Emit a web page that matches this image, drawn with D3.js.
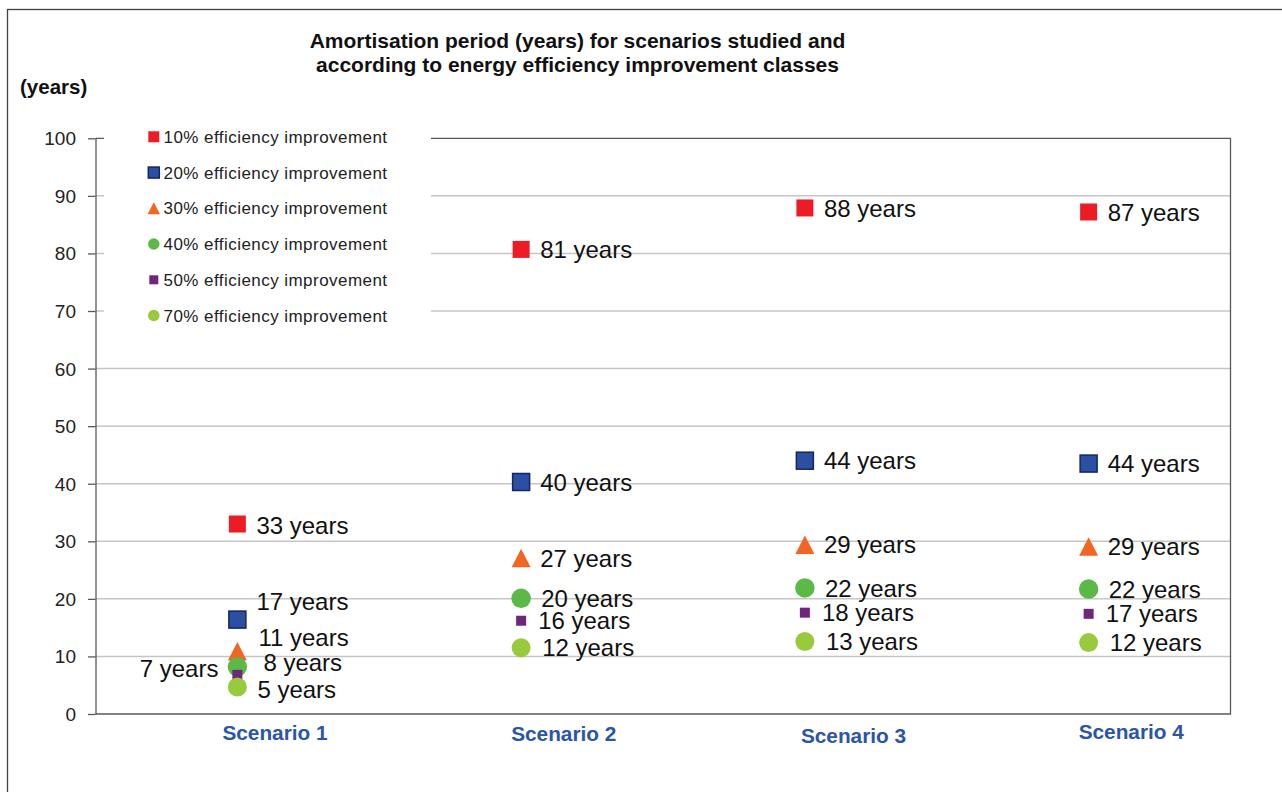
<!DOCTYPE html>
<html>
<head>
<meta charset="utf-8">
<script src="https://cdn.jsdelivr.net/npm/d3@7"></script>
<style>
  html, body { margin: 0; padding: 0; background: #ffffff; }
  svg { display: block; }
  text { font-family: "Liberation Sans", Arial, sans-serif; }
</style>
</head>
<body>
<script>
// ---------------- DATA ----------------
const categories = ["Scenario 1", "Scenario 2", "Scenario 3", "Scenario 4"];
const seriesNames = [
  "10% efficiency improvement",
  "20% efficiency improvement",
  "30% efficiency improvement",
  "40% efficiency improvement",
  "50% efficiency improvement",
  "70% efficiency improvement"
];
// plotted positions (years)
const improvement10 = [33.0, 80.7, 87.9, 87.2];
const improvement20 = [16.4, 40.3, 44.0, 43.5];
const improvement30 = [10.9, 27.1, 29.4, 29.1];
const improvement40 = [8.2, 20.1, 21.9, 21.7];
const improvement50 = [6.8, 16.2, 17.6, 17.4];
const improvement70 = [4.7, 11.5, 12.6, 12.4];
// printed data labels (years)
const labels10 = [33, 81, 88, 87];
const labels20 = [17, 40, 44, 44];
const labels30 = [11, 27, 29, 29];
const labels40 = [8, 20, 22, 22];
const labels50 = [7, 16, 18, 17];
const labels70 = [5, 12, 13, 12];
const yTicks = [0, 10, 20, 30, 40, 50, 60, 70, 80, 90, 100];
const titleLines = [
  "Amortisation period (years) for scenarios studied and",
  "according to energy efficiency improvement classes"
];
const yAxisTitle = "(years)";

// ---------------- STYLE ----------------
const seriesValues = [improvement10, improvement20, improvement30, improvement40, improvement50, improvement70];
const seriesLabels = [labels10, labels20, labels30, labels40, labels50, labels70];
const styles = [
  { fill: "#ed1c24", stroke: "none", shape: "square", size: 17, lsize: 11, ldx: 19 },
  { fill: "#2a4fa3", stroke: "#14275e", shape: "square", size: 17, lsize: 11, ldx: 19 },
  { fill: "#f26522", stroke: "none", shape: "triangle", size: 19, lsize: 12.5, ldx: 19 },
  { fill: "#5cb947", stroke: "none", shape: "circle", size: 19.5, lsize: 11.5, ldx: 20 },
  { fill: "#70267a", stroke: "none", shape: "square", size: 10, lsize: 9, ldx: 17 },
  { fill: "#99c93c", stroke: "none", shape: "circle", size: 19, lsize: 11.5, ldx: 21 }
];
// label offsets for the crowded Scenario 1 cluster [dx, dy, anchor]
const s1LabelOffsets = [
  [19, 1, "start"],
  [19, -18, "start"],
  [21, -14, "start"],
  [26, -4, "start"],
  [-19, -6, "end"],
  [20, 2, "start"]
];
const scenarioDx = [-15, -10, -4, -10];
const scenarioBase = [26, 27, 29, 25];

const W = 1282, H = 792;
const plot = { left: 95.5, right: 1230.5, top: 138.3, bottom: 714 };
const axisColor = "#595959";
const gridColor = "#c6c6c6";

const svg = d3.select("body").append("svg").attr("width", W).attr("height", H);

// outer border (extends past right/bottom edges)
svg.append("rect").attr("x", 7.5).attr("y", 9.5).attr("width", 1400).attr("height", 900)
  .attr("fill", "#fff").attr("stroke", "#404040").attr("stroke-width", 1.3);

const x = d3.scaleBand().domain(categories).range([plot.left, plot.right]);
const y = d3.scaleLinear().domain([0, 100]).range([plot.bottom, plot.top]);

// gridlines
svg.append("g").selectAll("line").data(yTicks.filter(t => t > 0 && t < 100)).join("line")
  .attr("x1", plot.left).attr("x2", plot.right)
  .attr("y1", d => y(d)).attr("y2", d => y(d))
  .attr("stroke", gridColor).attr("stroke-width", 1.5);

// plot border top/right/bottom
svg.append("path")
  .attr("d", `M${plot.left},${y(100)}H${plot.right}V${y(0)}H${plot.left}`)
  .attr("fill", "none").attr("stroke", axisColor).attr("stroke-width", 1.3);

// y axis
const yAxis = d3.axisLeft(y).tickValues(yTicks).tickSizeInner(7.5).tickSizeOuter(0).tickPadding(12);
const gy = svg.append("g").attr("transform", `translate(${plot.left},0)`).call(yAxis);
gy.select(".domain").attr("stroke", axisColor).attr("stroke-width", 1.3);
gy.selectAll(".tick line").attr("stroke", axisColor).attr("stroke-width", 1.3);
gy.selectAll(".tick text").attr("fill", "#222").style("font-size", "19px")
  .style("font-family", "'Liberation Sans', Arial, sans-serif").attr("dy", "0.34em");

// legend background (covers gridlines)
svg.append("rect").attr("x", 104).attr("y", 120).attr("width", 327).attr("height", 212).attr("fill", "#fff");

function markerPath(shape, s) {
  if (shape === "triangle") {
    const h = s * 0.97;
    return `M0,${-h / 2}L${s / 2},${h / 2}L${-s / 2},${h / 2}Z`;
  }
  return null;
}
function drawMarker(g, st, cx, cy, s) {
  if (st.shape === "square") {
    g.append("rect").attr("x", cx - s / 2).attr("y", cy - s / 2).attr("width", s).attr("height", s)
      .attr("fill", st.fill)
      .attr("stroke", st.stroke).attr("stroke-width", st.stroke === "none" ? 0 : 1.5);
  } else if (st.shape === "circle") {
    g.append("circle").attr("cx", cx).attr("cy", cy).attr("r", s / 2).attr("fill", st.fill);
  } else {
    g.append("path").attr("d", markerPath("triangle", s)).attr("transform", `translate(${cx},${cy})`)
      .attr("fill", st.fill);
  }
}

// legend
const legendY0 = 136.8, legendStep = 35.75;
const lg = svg.append("g");
seriesNames.forEach((name, i) => {
  const cy = legendY0 + i * legendStep;
  drawMarker(lg, styles[i], 153.8, cy, styles[i].lsize);
  lg.append("text").attr("x", 163.5).attr("y", cy + 0.36 * 17)
    .style("font-size", "17px").style("letter-spacing", "0.45px").attr("fill", "#222").text(name);
});

// markers and labels
const mg = svg.append("g");
seriesValues.forEach((vals, si) => {
  const st = styles[si];
  vals.forEach((v, ci) => {
    const cx = x(categories[ci]) + x.bandwidth() / 2;
    const cy = y(v);
    drawMarker(mg, st, cx, cy, st.size);
  });
});
const tg = svg.append("g");
seriesValues.forEach((vals, si) => {
  const st = styles[si];
  vals.forEach((v, ci) => {
    const cx = x(categories[ci]) + x.bandwidth() / 2;
    const cy = y(v);
    let dx = st.ldx, dy = 0, anchor = "start";
    if (ci === 0) { [dx, dy, anchor] = s1LabelOffsets[si]; }
    tg.append("text").attr("x", cx + dx).attr("y", cy + dy + 0.36 * 24)
      .attr("text-anchor", anchor).style("font-size", "24px").attr("fill", "#111")
      .text(seriesLabels[si][ci] + " years");
  });
});

// category labels
categories.forEach((c, i) => {
  const cx = x(c) + x.bandwidth() / 2;
  svg.append("text").attr("x", cx + scenarioDx[i]).attr("y", plot.bottom + scenarioBase[i])
    .style("font-size", "20.8px").style("font-weight", "bold").attr("fill", "#2b55a8").text(c);
});

// title
titleLines.forEach((t, i) => {
  svg.append("text").attr("x", 577.5).attr("y", 48 + i * 24).attr("text-anchor", "middle")
    .style("font-size", "21px").style("font-weight", "bold").attr("fill", "#111").text(t);
});
svg.append("text").attr("x", 20).attr("y", 94)
  .style("font-size", "20.5px").style("font-weight", "bold").attr("fill", "#111").text(yAxisTitle);
</script>
</body>
</html>
